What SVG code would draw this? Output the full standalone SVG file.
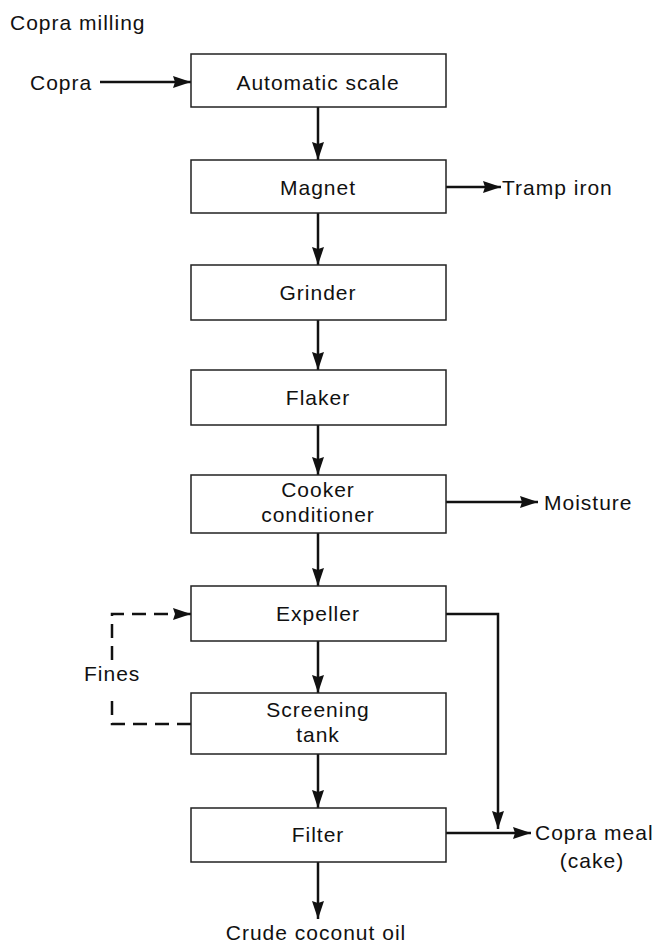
<svg xmlns="http://www.w3.org/2000/svg" width="654" height="944" viewBox="0 0 654 944">
<defs>
<style>
text{font-family:"Liberation Sans",Arial,sans-serif;font-size:21px;letter-spacing:1px;fill:#111;}
.c{text-anchor:middle;}
.box{fill:#fff;stroke:#222;stroke-width:1.5;}
.ln{fill:none;stroke:#111;stroke-width:2.5;}
.dash{fill:none;stroke:#111;stroke-width:2.5;stroke-dasharray:14,8;}
</style>
<marker id="ah" viewBox="0 0 18 12" refX="18" refY="6" markerWidth="18" markerHeight="12" markerUnits="userSpaceOnUse" orient="auto">
<path d="M0,0 L18,6 L0,12 L2,6 z" fill="#111"/>
</marker>
</defs>
<rect width="654" height="944" fill="#fff"/>
<text x="10" y="30">Copra milling</text>
<g id="connectors">
<line class="ln" x1="100" y1="82" x2="191" y2="82" marker-end="url(#ah)"/>
<line class="ln" x1="318" y1="107" x2="318" y2="160" marker-end="url(#ah)"/>
<line class="ln" x1="446" y1="187" x2="501" y2="187" marker-end="url(#ah)"/>
<line class="ln" x1="318" y1="213" x2="318" y2="265" marker-end="url(#ah)"/>
<line class="ln" x1="318" y1="320" x2="318" y2="370" marker-end="url(#ah)"/>
<line class="ln" x1="318" y1="425" x2="318" y2="475" marker-end="url(#ah)"/>
<line class="ln" x1="446" y1="502" x2="538" y2="502" marker-end="url(#ah)"/>
<line class="ln" x1="318" y1="533" x2="318" y2="586" marker-end="url(#ah)"/>
<polyline class="ln" points="446,614 498,614 498,829" marker-end="url(#ah)"/>
<line class="ln" x1="318" y1="641" x2="318" y2="693" marker-end="url(#ah)"/>
<polyline class="dash" points="191,724 112,724 112,694"/>
<polyline class="dash" points="112,660 112,614 178,614"/>
<line class="ln" x1="176" y1="614" x2="191" y2="614" marker-end="url(#ah)"/>
<line class="ln" x1="318" y1="754" x2="318" y2="808" marker-end="url(#ah)"/>
<line class="ln" x1="446" y1="833" x2="531" y2="833" marker-end="url(#ah)"/>
<line class="ln" x1="318" y1="862" x2="318" y2="919" marker-end="url(#ah)"/>
</g>
<g id="copra"><text x="30" y="90">Copra</text></g>
<g id="automatic-scale"><rect class="box" x="191" y="54" width="255" height="53"/><text class="c" x="318" y="90">Automatic scale</text></g>
<g id="magnet"><rect class="box" x="191" y="160" width="255" height="53"/><text class="c" x="318" y="195">Magnet</text></g>
<g id="tramp-iron"><text x="502" y="195">Tramp iron</text></g>
<g id="grinder"><rect class="box" x="191" y="265" width="255" height="55"/><text class="c" x="318" y="300">Grinder</text></g>
<g id="flaker"><rect class="box" x="191" y="370" width="255" height="55"/><text class="c" x="318" y="405">Flaker</text></g>
<g id="cooker"><rect class="box" x="191" y="475" width="255" height="58"/><text class="c" x="318" y="497">Cooker</text><text class="c" x="318" y="522">conditioner</text></g>
<g id="moisture"><text x="544" y="510">Moisture</text></g>
<g id="expeller"><rect class="box" x="191" y="586" width="255" height="55"/><text class="c" x="318" y="621">Expeller</text></g>
<g id="fines"><text x="84" y="681">Fines</text></g>
<g id="screening-tank"><rect class="box" x="191" y="693" width="255" height="61"/><text class="c" x="318" y="717">Screening</text><text class="c" x="318" y="742">tank</text></g>
<g id="filter"><rect class="box" x="191" y="808" width="255" height="54"/><text class="c" x="318" y="842">Filter</text></g>
<g id="copra-meal"><text x="535" y="840">Copra meal</text><text class="c" x="592" y="868">(cake)</text></g>
<g id="crude-oil"><text class="c" x="316" y="940">Crude coconut oil</text></g>
</svg>
